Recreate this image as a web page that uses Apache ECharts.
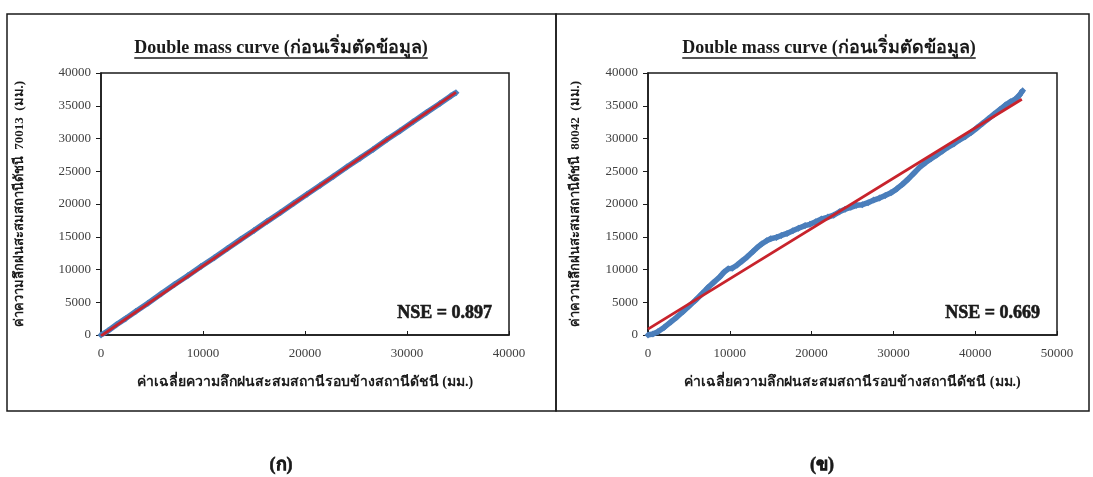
<!DOCTYPE html>
<html>
<head>
<meta charset="utf-8">
<style>
  html, body { margin: 0; padding: 0; background: #ffffff; }
  #chart { width: 1093px; height: 477px; }
</style>
<script src="https://cdn.jsdelivr.net/npm/echarts@6/dist/echarts.min.js"></script>
</head>
<body>
<div id="chart"></div>
<script>
// Cumulative rainfall: station 70013 vs mean of surrounding stations (mm)
const massA = [
  [0, 0], [700, 650], [1500, 1550], [2400, 2500], [3400, 3600], [4600, 4850],
  [5900, 6300], [7200, 7700], [8500, 9050], [9800, 10450], [11100, 11800],
  [12400, 13200], [13700, 14600], [15000, 15950], [16300, 17350], [17600, 18700],
  [18900, 20100], [20200, 21500], [21500, 22850], [22800, 24250], [24100, 25650],
  [25400, 27000], [26700, 28350], [28000, 29800], [29300, 31150], [30600, 32550],
  [31900, 33950], [33200, 35300], [34300, 36500], [34800, 37000]
];
const trendA = [[0, -150], [34800, 37050]];

// Cumulative rainfall: station 80042 vs mean of surrounding stations (mm)
const massB = [
  [0, 0], [600, 150], [1200, 500], [2000, 1200], [2800, 2000], [3500, 2700],
  [4300, 3600], [5000, 4400], [5800, 5300], [6600, 6300], [7300, 7200],
  [8000, 8000], [8800, 8900], [9300, 9600], [9800, 10100], [10300, 10200],
  [10900, 10700], [11500, 11300], [12100, 11900], [12800, 12700], [13300, 13300],
  [13900, 13900], [14500, 14400], [15000, 14700], [15700, 14900], [16300, 15200],
  [17000, 15500], [17700, 15900], [18400, 16300], [19200, 16700], [19800, 16900],
  [20500, 17300], [21200, 17700], [22000, 18000], [22700, 18300], [23400, 18800],
  [24100, 19200], [24800, 19500], [25500, 19800], [26200, 19900], [26900, 20200],
  [27600, 20600], [28300, 20900], [29000, 21300], [29700, 21700], [30400, 22300],
  [31100, 23000], [31800, 23800], [32500, 24700], [33200, 25600], [33900, 26300],
  [34600, 26900], [35300, 27500], [36000, 28100], [36700, 28700], [37400, 29200],
  [38100, 29800], [38800, 30300], [39500, 30900], [40200, 31600], [40900, 32300],
  [41600, 33000], [42300, 33700], [43000, 34400], [43700, 35100], [44300, 35600],
  [44900, 36000], [45400, 36600], [45800, 37300]
];
const trendB = [[0, 900], [45700, 36000]];

const chartTitle = 'Double mass curve (ก่อนเริ่มตัดข้อมูล)';
const yNames = ['ค่าความลึกฝนสะสมสถานีดัชนี  70013  (มม.)', 'ค่าความลึกฝนสะสมสถานีดัชนี  80042  (มม.)'];
const xName = 'ค่าเฉลี่ยความลึกฝนสะสมสถานีรอบข้างสถานีดัชนี (มม.)';
const nseLabels = ['NSE = 0.897', 'NSE = 0.669'];
const panelTags = ['(ก)', '(ข)'];
const xMax = [40000, 50000];
const yNameGap = [75, 66];

const SERIF = 'Liberation Serif';
const BLUE = '#4a7ebb';
const RED = '#c8232c';
const INK = '#1a1a1a';

const grids = [
  { left: 101, top: 73, width: 408, height: 262 },
  { left: 648, top: 73, width: 409, height: 262 }
];

function textWidth(str, size) {
  const c = document.createElement('canvas').getContext('2d');
  c.font = 'bold ' + size + 'px "Liberation Serif"';
  return c.measureText(str).width;
}

const titleSize = 18;
const titleW = textWidth(chartTitle, titleSize);

function txt(x, y, text, size, align, heavy) {
  const style = { text: text, fontFamily: SERIF, fontWeight: 'bold', fontSize: size,
                  fill: INK, align: align, verticalAlign: 'middle' };
  if (heavy) { style.stroke = INK; style.lineWidth = 0.6; }
  return { type: 'text', x: x, y: y, silent: true, style: style };
}

const graphics = [];
// panel frames
graphics.push({ type: 'rect', shape: { x: 7, y: 14, width: 549, height: 397 },
  style: { fill: 'none', stroke: INK, lineWidth: 1.5 }, silent: true });
graphics.push({ type: 'rect', shape: { x: 556, y: 14, width: 533, height: 397 },
  style: { fill: 'none', stroke: INK, lineWidth: 1.5 }, silent: true });

[281, 829].forEach(cx => {
  graphics.push(txt(cx, 48, chartTitle, titleSize, 'center', false));
  graphics.push({ type: 'line', silent: true,
    shape: { x1: cx - titleW / 2, y1: 58, x2: cx + titleW / 2, y2: 58 },
    style: { stroke: INK, lineWidth: 1.4 } });
});

grids.forEach((g, i) => {
  graphics.push(txt(g.left + g.width - 17, 313, nseLabels[i], 18, 'right', true));
});

[281, 822].forEach((cx, i) => {
  graphics.push(txt(cx, 465, panelTags[i], 18, 'center', true));
});

function xAxis(i) {
  return {
    type: 'value', gridIndex: i, min: 0, max: xMax[i], interval: 10000,
    name: xName, nameLocation: 'middle', nameGap: 40,
    nameTextStyle: { fontFamily: SERIF, fontWeight: 'bold', fontSize: 14, color: INK },
    axisLine: { show: true, lineStyle: { color: INK, width: 1.5 } },
    axisTick: { show: true, inside: true, length: 4, lineStyle: { color: INK } },
    axisLabel: { fontFamily: SERIF, fontSize: 13, color: '#404040', margin: 12,
                 formatter: v => String(v) },
    splitLine: { show: false }
  };
}
function yAxis(i) {
  return {
    type: 'value', gridIndex: i, min: 0, max: 40000, interval: 5000,
    name: yNames[i], nameLocation: 'middle', nameGap: yNameGap[i],
    nameTextStyle: { fontFamily: SERIF, fontWeight: 'bold', fontSize: 13, color: INK },
    axisLine: { show: true, lineStyle: { color: INK, width: 1.5 } },
    axisTick: { show: true, length: 5, lineStyle: { color: INK } },
    axisLabel: { fontFamily: SERIF, fontSize: 13, color: '#404040', margin: 10,
                 formatter: v => String(v) },
    splitLine: { show: false }
  };
}

function massSeries(i, data, width) {
  return {
    type: 'line', xAxisIndex: i, yAxisIndex: i, data: data,
    showSymbol: true, symbol: 'diamond', symbolSize: 7,
    itemStyle: { color: BLUE }, lineStyle: { color: BLUE, width: width },
    silent: true, animation: false, z: 2
  };
}
function trendSeries(i, data) {
  return {
    type: 'line', xAxisIndex: i, yAxisIndex: i, data: data,
    showSymbol: false, lineStyle: { color: RED, width: 2.8 },
    silent: true, animation: false, z: 3
  };
}

const chart = echarts.init(document.getElementById('chart'), null, { renderer: 'canvas' });
chart.setOption({
  backgroundColor: '#ffffff',
  animation: false,
  grid: grids.map(g => Object.assign({ show: true, borderColor: INK, borderWidth: 1.5, backgroundColor: 'transparent' }, g)),
  xAxis: [xAxis(0), xAxis(1)],
  yAxis: [yAxis(0), yAxis(1)],
  series: [
    massSeries(0, massA, 5.5), trendSeries(0, trendA),
    massSeries(1, massB, 5.5), trendSeries(1, trendB)
  ],
  graphic: graphics
});
</script>
</body>
</html>
